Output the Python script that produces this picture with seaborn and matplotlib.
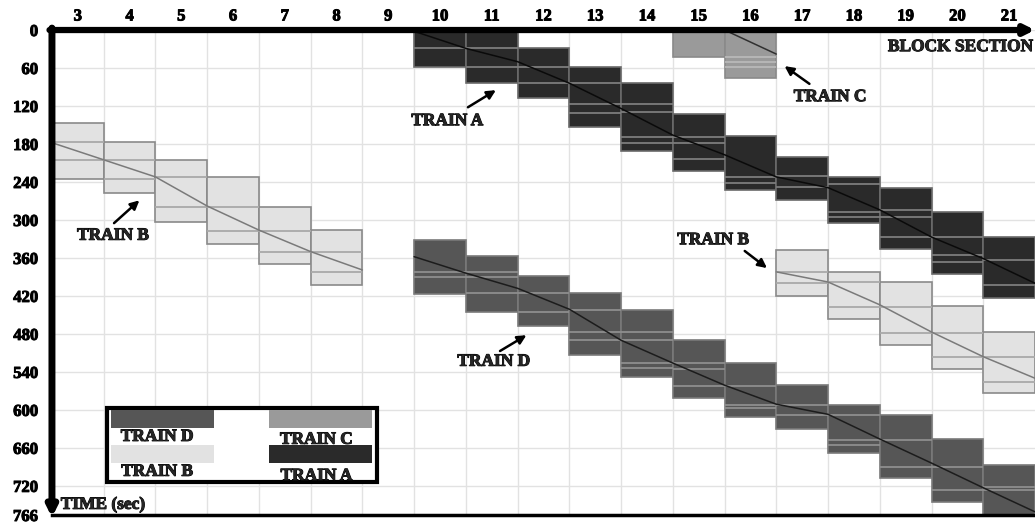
import matplotlib
matplotlib.use("Agg")
import matplotlib.pyplot as plt
from matplotlib.patches import Rectangle
import matplotlib.patheffects as pe
import seaborn as sns
import numpy as np

# ---------------- data ----------------
block_sections = list(range(3, 22))
time_ticks = [0, 60, 120, 180, 240, 300, 360, 420, 480, 540, 600, 660, 720, 766]

# Train A
a_sections = [10, 11, 12, 13, 14, 15, 16, 17, 18, 19, 20, 21]
a_start = [0, 0, 29, 58, 84, 133, 167, 201, 232, 249, 287, 327]
a_end = [58, 84, 108, 153, 191, 222, 253, 269, 305, 346, 385, 423]
a_inner = [[29], [29, 58], [58, 84], [84, 117, 131], [117, 130, 169, 179],
           [169, 179, 203], [232, 241], [231, 248], [243, 287, 295],
           [284, 295, 327], [327, 355, 366], [363, 403]]
a_path_x = [9.5, 10.5, 11.5, 12.5, 13.5, 14.5, 15.5, 16.5, 17.5, 18.5, 19.5, 20.5, 21.5]
a_path_t = [2, 29, 50, 84, 124, 166, 197, 232, 249, 284, 327, 361, 400]

# Train C
c_sections = [15, 16]
c_start = [0, 0]
c_end = [42, 75]
c_inner = [[], [42, 50, 58]]
c_path_x = [15.5, 16.5]
c_path_t = [0, 38]

# Train B (first run)
b1_sections = [3, 4, 5, 6, 7, 8]
b1_start = [147, 177, 205, 232, 280, 316]
b1_end = [236, 258, 303, 338, 369, 403]
b1_inner = [[177, 206], [206, 236], [232, 280], [280, 317], [317, 351], [351, 382]]
b1_path_x = [2.5, 3.5, 4.5, 5.5, 6.5, 7.5, 8.5]
b1_path_t = [178, 205, 232, 278, 316, 350, 379]

# Train B (second run)
b2_sections = [17, 18, 19, 20, 21]
b2_start = [348, 382, 398, 436, 477]
b2_end = [420, 457, 498, 536, 574]
b2_inner = [[382, 400], [398, 438], [438, 478], [478, 517], [517, 556]]
b2_path_x = [16.5, 17.5, 18.5, 19.5, 20.5, 21.5]
b2_path_t = [382, 398, 434, 477, 516, 550]

# Train D
d_sections = [10, 11, 12, 13, 14, 15, 16, 17, 18, 19, 20, 21]
d_start = [332, 357, 388, 416, 443, 490, 526, 561, 592, 608, 646, 687]
d_end = [417, 445, 468, 513, 548, 581, 611, 630, 668, 708, 746, 766]
d_inner = [[382, 390], [382, 390, 416], [416, 445], [442, 477, 490],
           [477, 490, 526, 534], [526, 536, 562], [562, 592, 597], [592, 608],
           [608, 648, 656], [648, 690], [690, 727], [722, 727]]
d_path_x = [9.5, 10.5, 11.5, 12.5, 13.5, 14.5, 15.5, 16.5, 17.5, 18.5, 19.5, 20.5, 21.5]
d_path_t = [358, 384, 408, 441, 490, 526, 561, 591, 607, 646, 684, 723, 761]

legend_labels = ["TRAIN D", "TRAIN B", "TRAIN C", "TRAIN A"]

# ---------------- style ----------------
sns.set_theme(style="white")
plt.rcParams['font.family'] = ['Liberation Serif', 'DejaVu Serif']
plt.rcParams['font.weight'] = 'bold'

heavy = [pe.withStroke(linewidth=0.7, foreground='black')]

fig = plt.figure(figsize=(10.35, 5.23), dpi=100)
ax = fig.add_axes([0.0502, 0.0153, 0.9498, 0.9273])

col = {"A": "#2a2a2a", "D": "#565656", "C": "#9a9a9a", "B": "#e2e2e2"}
edge = {"A": "#6a6a6a", "D": "#7a7a7a", "C": "#8a8a8a", "B": "#8a8a8a"}
inner_col = {"A": "#7c7c7c", "D": "#8e8e8e", "C": "#b8b8b8", "B": "#a9a9a9"}
path_col = {"A": "#0a0a0a", "D": "#1c1c1c", "C": "#303030", "B": "#7a7a7a"}


def draw_train(key, secs, starts, ends, inners, px, pt):
    heights = [e - s for s, e in zip(starts, ends)]
    ax.bar(secs, heights, bottom=starts, width=1.0, color=col[key],
           edgecolor=edge[key], linewidth=1.2, zorder=2)
    for s, lines in zip(secs, inners):
        if lines:
            ax.hlines(lines, s - 0.5, s + 0.5, colors=inner_col[key],
                      linewidth=1.3, zorder=3)
    sns.lineplot(x=px, y=pt, color=path_col[key], linewidth=1.1, ax=ax,
                 sort=False, estimator=None, zorder=4)


draw_train("A", a_sections, a_start, a_end, a_inner, a_path_x, a_path_t)
draw_train("C", c_sections, c_start, c_end, c_inner, c_path_x, c_path_t)
draw_train("B", b1_sections, b1_start, b1_end, b1_inner, b1_path_x, b1_path_t)
draw_train("B", b2_sections, b2_start, b2_end, b2_inner, b2_path_x, b2_path_t)
draw_train("D", d_sections, d_start, d_end, d_inner, d_path_x, d_path_t)

# ---------------- axes ----------------
ax.set_xlim(2.5, 21.5)
ax.set_ylim(766, 0)
ax.set_xlabel("")
ax.set_ylabel("")
ax.xaxis.tick_top()
ax.set_xticks(block_sections)
ax.set_xticklabels([str(s) for s in block_sections], fontsize=12, fontweight='bold')
ax.set_xticks(np.arange(3.5, 21.0, 1.0), minor=True)
ax.set_yticks(time_ticks)
ax.set_yticklabels([str(t) for t in time_ticks], fontsize=12, fontweight='bold')
ax.tick_params(axis='x', which='both', length=0, pad=4, colors='black')
ax.tick_params(axis='y', which='both', length=0, pad=10, colors='black')
for lbl in ax.get_xticklabels() + ax.get_yticklabels():
    lbl.set_path_effects(heavy)
ax.set_axisbelow(True)
ax.grid(False)
ax.grid(True, axis='x', which='minor', color='#e2e2e2', linewidth=1.0)
ax.grid(True, axis='y', which='major', color='#e2e2e2', linewidth=1.0)

for s in ['left', 'top', 'right']:
    ax.spines[s].set_visible(False)
ax.spines['bottom'].set_color('black')
ax.spines['bottom'].set_linewidth(2.5)

# axis arrows
ax.annotate('', xy=(0, -0.005), xytext=(0, 1.004), xycoords='axes fraction',
            textcoords='axes fraction',
            arrowprops=dict(arrowstyle='-|>', lw=5, color='black',
                            mutation_scale=14, shrinkA=0, shrinkB=0),
            annotation_clip=False, zorder=10)
ax.annotate('', xy=(1.0, 1.0), xytext=(-0.0025, 1.0), xycoords='axes fraction',
            textcoords='axes fraction',
            arrowprops=dict(arrowstyle='-|>', lw=4.5, color='black',
                            mutation_scale=14, shrinkA=0, shrinkB=0),
            annotation_clip=False, zorder=10)

ax.text(21.47, 27, "BLOCK SECTION", ha='right', va='center', fontsize=12.5,
        fontweight='bold', zorder=6, path_effects=heavy)
ax.text(2.67, 750, "TIME (sec)", ha='left', va='center', fontsize=12.5,
        fontweight='bold', zorder=6, path_effects=heavy)

# train annotations
arrow_kw = dict(arrowstyle='-|>', lw=1.8, color='black', mutation_scale=13,
                shrinkA=0, shrinkB=0)
notes = [
    ("TRAIN A", (10.14, 144), (10.54, 122), (11.08, 95)),
    ("TRAIN C", (17.54, 106), (17.14, 85), (16.66, 57)),
    ("TRAIN B", (3.68, 325), (3.70, 305), (4.19, 269)),
    ("TRAIN B", (15.28, 332), (15.89, 349), (16.32, 376)),
    ("TRAIN D", (11.04, 524), (11.16, 507), (11.67, 482)),
]
for label, tpos, tail, tip in notes:
    ax.text(tpos[0], tpos[1], label, ha='center', va='center', fontsize=12.5,
            fontweight='bold', zorder=6, path_effects=heavy)
    ax.annotate('', xy=tip, xytext=tail, arrowprops=arrow_kw, zorder=6)

# ---------------- legend box ----------------
tr = ax.transAxes
ax.add_patch(Rectangle((0.056, 0.068), 0.275, 0.153, transform=tr,
                       facecolor='white', edgecolor='black', linewidth=3,
                       zorder=7))
sw_w, sw_h = 0.105, 0.037
swatches = [(0.060, 0.179, col["D"]), (0.060, 0.107, col["B"]),
            (0.221, 0.179, col["C"]), (0.221, 0.107, col["A"])]
for x0, y0, c in swatches:
    ax.add_patch(Rectangle((x0, y0), sw_w, sw_h, transform=tr, facecolor=c,
                           edgecolor='none', zorder=8))
label_pos = [(0.107, 0.161), (0.107, 0.089), (0.269, 0.155), (0.269, 0.080)]
for (lx, ly), lab in zip(label_pos, legend_labels):
    ax.text(lx, ly, lab, transform=tr, ha='center', va='center', fontsize=12.5,
            fontweight='bold', zorder=7.5, path_effects=heavy)

fig.savefig("out.png", dpi=100)
